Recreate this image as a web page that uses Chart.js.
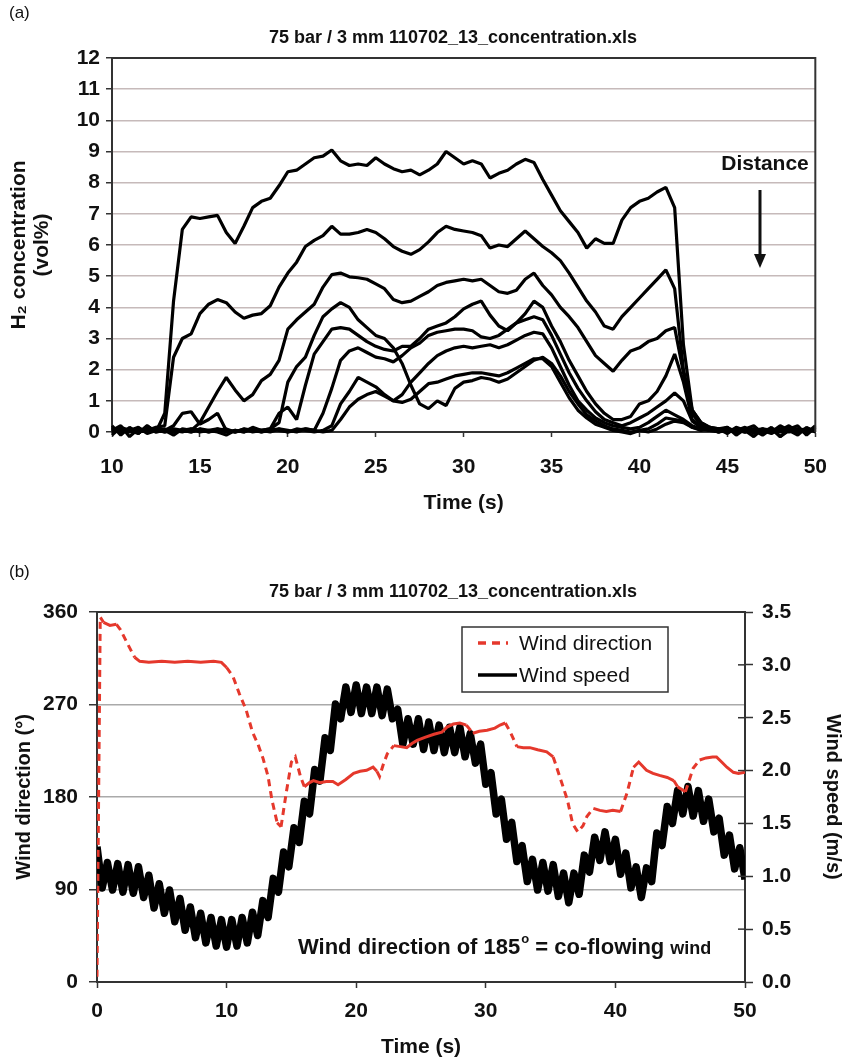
<!DOCTYPE html>
<html><head><meta charset="utf-8">
<script src="https://cdn.jsdelivr.net/npm/chart.js@4.4.1/dist/chart.umd.min.js"></script>
<style>
html,body{margin:0;padding:0;background:#fff;}
#wa{position:absolute;left:0;top:0;width:845px;height:545px;}
#wb{position:absolute;left:0;top:545px;width:845px;height:518px;}
</style></head><body>
<div id="wa"><canvas id="ca" width="845" height="545"></canvas></div>
<div id="wb"><canvas id="cb" width="845" height="518"></canvas></div>
<script>
// ---------- Chart (a): H2 concentration vs time ----------
const concTime = [10,10.5,11,11.5,12,12.5,13,13.5,14,14.5,
  15,15.5,16,16.5,17,17.5,18,18.5,19,19.5,
  20,20.5,21,21.5,22,22.5,23,23.5,24,24.5,
  25,25.5,26,26.5,27,27.5,28,28.5,29,29.5,
  30,30.5,31,31.5,32,32.5,33,33.5,34,34.5,
  35,35.5,36,36.5,37,37.5,38,38.5,39,39.5,
  40,40.5,41,41.5,42,42.5,43,43.5,44,44.5,
  45,45.5,46,46.5,47,47.5,48,48.5,49,49.5,50];
const concA = [0.20,-0.10,0.15,-0.05,0.20,0.00,0.60,4.20,6.50,6.90,
  6.85,6.90,6.95,6.40,6.05,6.60,7.20,7.40,7.50,7.90,
  8.35,8.40,8.60,8.80,8.85,9.05,8.70,8.55,8.60,8.55,
  8.80,8.60,8.45,8.35,8.40,8.25,8.40,8.60,9.00,8.80,
  8.60,8.70,8.60,8.15,8.30,8.40,8.60,8.75,8.65,8.10,
  7.60,7.10,6.75,6.40,5.90,6.20,6.05,6.05,6.80,7.20,
  7.40,7.50,7.70,7.85,7.20,2.80,0.70,0.30,0.15,0.10,
  0.15,-0.10,0.10,0.20,-0.05,0.15,-0.15,0.10,0.20,-0.10,0.15];
const concB = [0.05,0.20,-0.15,0.10,0.05,0.15,0.20,2.40,3.00,3.15,
  3.80,4.10,4.25,4.15,3.85,3.65,3.75,3.80,4.05,4.65,
  5.10,5.45,5.95,6.15,6.30,6.60,6.35,6.35,6.40,6.50,
  6.40,6.20,5.95,5.80,5.70,5.85,6.10,6.40,6.60,6.50,
  6.45,6.40,6.30,5.90,6.00,5.95,6.20,6.45,6.20,5.95,
  5.75,5.50,5.10,4.65,4.20,3.85,3.40,3.30,3.70,4.00,
  4.30,4.60,4.90,5.20,4.60,2.00,0.70,0.30,0.15,0.10,
  -0.05,0.15,0.05,-0.15,0.10,0.00,0.20,0.05,-0.10,0.15,0.00];
const concC = [-0.10,0.15,0.05,-0.05,0.20,0.00,0.05,-0.10,0.10,0.05,
  0.30,0.80,1.30,1.75,1.35,1.00,1.20,1.65,1.85,2.30,
  3.30,3.60,3.85,4.10,4.65,5.05,5.10,4.98,4.95,4.90,
  4.75,4.60,4.25,4.15,4.20,4.35,4.50,4.70,4.80,4.85,
  4.90,4.85,4.90,4.70,4.50,4.45,4.55,4.90,5.10,4.70,
  4.40,4.00,3.70,3.35,2.90,2.45,2.20,1.95,2.30,2.60,
  2.70,2.90,3.00,3.25,3.35,1.90,0.60,0.20,0.10,0.05,
  0.15,-0.05,0.10,0.05,-0.10,0.10,0.05,0.20,0.00,0.05,0.10];
const concD = [0.15,0.00,0.05,0.15,-0.05,0.05,0.10,0.00,0.05,0.00,
  0.10,0.05,0.00,-0.10,0.05,0.00,0.15,0.05,0.10,0.30,
  1.60,2.10,2.40,3.10,3.70,3.95,4.15,4.00,3.60,3.35,
  3.10,3.00,2.70,2.20,1.50,0.90,0.75,1.00,0.85,1.40,
  1.60,1.65,1.75,1.70,1.60,1.70,1.90,2.10,2.30,2.40,
  2.20,1.80,1.30,0.90,0.55,0.35,0.20,0.10,0.05,0.00,
  0.05,0.00,0.10,0.25,0.35,0.30,0.15,0.10,0.05,0.10,
  0.00,0.05,0.15,-0.05,0.05,0.10,-0.15,0.05,0.10,-0.05,0.20];
const concE = [0.05,0.00,0.10,0.05,0.00,0.10,0.05,0.00,0.05,0.10,
  0.00,0.05,0.10,0.00,0.05,0.00,0.10,0.05,0.10,0.60,
  0.80,0.40,1.50,2.50,2.90,3.30,3.35,3.30,3.10,2.90,
  2.75,2.65,2.60,2.75,2.75,3.00,3.30,3.40,3.50,3.70,
  3.95,4.10,4.20,3.75,3.40,3.25,3.50,3.80,4.20,4.00,
  3.40,2.90,2.30,1.80,1.30,0.90,0.60,0.40,0.40,0.50,
  0.90,1.00,1.30,1.80,2.50,1.60,0.40,0.15,0.10,0.00,
  0.10,0.05,0.00,0.10,0.05,-0.05,0.10,0.00,0.05,0.10,0.05];
const concF = [0.00,0.05,0.10,0.00,0.05,0.10,0.00,0.05,0.00,0.10,
  0.05,0.00,0.10,0.05,0.00,0.05,0.10,0.00,0.05,0.10,
  0.00,0.05,0.10,0.05,0.60,1.40,2.30,2.60,2.70,2.55,
  2.40,2.35,2.25,2.45,2.70,2.85,3.10,3.20,3.25,3.30,
  3.30,3.25,3.05,3.00,3.10,3.30,3.50,3.60,3.70,3.60,
  3.10,2.50,1.90,1.40,1.00,0.65,0.40,0.30,0.20,0.30,
  0.45,0.60,0.80,1.00,1.25,1.00,0.35,0.15,0.05,0.10,
  0.00,0.10,0.05,0.00,0.10,0.05,0.00,0.10,0.05,0.00,0.10];
const concG = [0.05,0.10,0.00,0.05,0.10,0.05,0.00,0.10,0.05,0.00,
  0.10,0.00,0.05,0.10,0.00,0.10,0.05,0.00,0.10,0.05,
  0.00,0.10,0.05,0.00,0.05,0.20,0.90,1.30,1.75,1.60,
  1.45,1.20,1.00,1.20,1.60,1.90,2.20,2.45,2.60,2.70,
  2.75,2.70,2.75,2.80,2.70,2.80,2.95,3.10,3.20,3.15,
  2.70,2.10,1.50,1.00,0.70,0.45,0.30,0.20,0.15,0.10,
  0.15,0.30,0.50,0.70,0.55,0.40,0.20,0.10,0.05,0.00,
  0.10,0.05,0.00,0.10,0.05,0.00,0.10,0.05,0.00,0.10,0.05];
const concH = [0.00,0.10,0.05,0.00,0.10,0.00,0.05,0.20,0.60,0.65,
  0.25,0.40,0.60,0.05,0.00,0.10,0.00,0.05,0.00,0.10,
  0.05,0.00,0.10,0.05,0.00,0.05,0.40,0.80,1.05,1.20,
  1.30,1.15,1.00,0.95,1.05,1.30,1.55,1.60,1.70,1.80,
  1.85,1.90,1.90,1.85,1.80,1.90,2.05,2.20,2.35,2.35,
  2.10,1.60,1.10,0.70,0.45,0.25,0.15,0.05,0.00,-0.05,
  0.05,0.10,0.25,0.45,0.40,0.35,0.15,0.05,0.10,0.00,
  0.05,0.10,0.00,0.05,0.10,0.00,0.05,0.10,0.00,0.05,0.10];
const concCurves = [concA, concB, concC, concD, concE, concF, concG, concH];

// ---------- Chart (b): wind direction and speed ----------
const dirTime = [0,0.25,0.5,1.0,1.5,1.8,2.4,2.9,3.3,4,
  5,6,7,8,9,9.6,10.0,10.5,11.0,11.5,
  12.0,12.4,12.8,13.2,13.5,13.9,14.2,14.6,15.0,15.3,
  15.7,16.0,16.4,16.7,17.2,17.7,18.2,18.6,19.2,19.8,
  20.3,20.8,21.3,21.6,21.8,22.1,22.4,22.9,23.4,23.9,
  24.3,24.7,25.3,26.0,26.6,27.0,27.5,28.0,28.5,29.0,
  29.5,30.1,30.7,31.1,31.5,31.9,32.4,32.9,33.4,34.0,
  34.7,35.2,35.7,36.3,36.7,37.1,37.5,37.8,38.3,38.8,
  39.3,39.8,40.4,40.9,41.4,41.8,42.4,42.9,43.4,44.0,
  44.5,44.8,45.4,46.0,46.5,47.0,47.5,47.8,48.2,48.6,
  49.1,49.5,50];
const windDirection = [5,355,350,347,348,343,328,316,312,311,
  312,311,312,311,312,311,306,297,280,265,
  243,232,218,200,177,155,151,184,214,219,
  200,190,194,196,194,195,195,192,197,203,
  205,206,209,205,200,212,222,230,229,228,
  232,235,238,241,243,248,251,252,250,242,
  244,245,247,250,252,243,229,228,228,226,
  224,219,200,177,154,146,152,161,169,167,
  166,167,166,184,209,214,206,203,201,199,
  196,190,185,208,216,218,219,219,214,209,
  204,203,204];
const speedTime = [0,0.4,0.8,1.2,1.6,2,2.4,2.8,3.2,3.6,
  4,4.4,4.8,5.2,5.6,6,6.4,6.8,7.2,7.6,
  8,8.4,8.8,9.2,9.6,10,10.4,10.8,11.2,11.6,
  12,12.4,12.8,13.2,13.6,14,14.4,14.8,15.2,15.6,
  16,16.4,16.8,17.2,17.6,18,18.4,18.8,19.2,19.6,
  20,20.4,20.8,21.2,21.6,22,22.4,22.8,23.2,23.6,
  24,24.4,24.8,25.2,25.6,26,26.4,26.8,27.2,27.6,
  28,28.4,28.8,29.2,29.6,30,30.4,30.8,31.2,31.6,
  32,32.4,32.8,33.2,33.6,34,34.4,34.8,35.2,35.6,
  36,36.4,36.8,37.2,37.6,38,38.4,38.8,39.2,39.6,
  40,40.4,40.8,41.2,41.6,42,42.4,42.8,43.2,43.6,
  44,44.4,44.8,45.2,45.6,46,46.4,46.8,47.2,47.6,
  48,48.4,48.8,49.2,49.6,50];
const windSpeed = [1.28,0.89,1.13,0.87,1.12,0.85,1.11,0.84,1.09,0.80,
  1.01,0.70,0.93,0.65,0.87,0.57,0.79,0.49,0.71,0.42,
  0.65,0.37,0.61,0.34,0.59,0.33,0.59,0.34,0.61,0.37,
  0.66,0.44,0.77,0.61,0.98,0.85,1.23,1.09,1.46,1.32,
  1.71,1.59,2.01,1.90,2.31,2.19,2.63,2.49,2.79,2.55,
  2.81,2.54,2.79,2.54,2.79,2.52,2.77,2.49,2.58,2.25,
  2.49,2.25,2.49,2.20,2.46,2.19,2.43,2.17,2.41,2.17,
  2.41,2.13,2.35,2.07,2.25,1.87,1.98,1.59,1.73,1.35,
  1.51,1.14,1.29,0.95,1.16,0.87,1.13,0.86,1.11,0.81,
  1.03,0.75,1.03,0.83,1.20,1.04,1.37,1.15,1.42,1.14,
  1.35,1.02,1.22,0.89,1.09,0.80,1.08,0.95,1.41,1.29,
  1.66,1.50,1.81,1.59,1.85,1.57,1.81,1.52,1.73,1.42,
  1.55,1.20,1.39,1.07,1.27,0.97];
const seriesLabels = ['Wind direction', 'Wind speed'];

// sanity checks
concCurves.forEach((c,i)=>{ if(c.length!==concTime.length) throw new Error('conc curve '+i+' length '+c.length); });
if (dirTime.length!==windDirection.length) throw new Error('dir len '+dirTime.length+' vs '+windDirection.length);
if (speedTime.length!==windSpeed.length) throw new Error('speed len '+speedTime.length+' vs '+windSpeed.length);

const FF = "'Liberation Sans', Arial, Helvetica, sans-serif";
const INK = '#111';
const pts = (xs, ys) => xs.map((x,i)=>({x, y: ys[i]}));

function textPlugin(id, items){
  return { id, afterDraw(chart){
    const c = chart.ctx; c.save();
    items.forEach(it=>{
      c.font = it.font; c.fillStyle = it.color || INK;
      c.textAlign = it.align || 'left'; c.textBaseline = 'middle';
      c.fillText(it.text, it.x, it.y);
    });
    c.restore();
  }};
}

// ---------- Chart (a) ----------
const frameA = { id:'frameA', afterDatasetsDraw(chart){
  const {left,right,top,bottom} = chart.chartArea; const c = chart.ctx;
  c.save(); c.strokeStyle = '#333'; c.lineWidth = 2;
  c.beginPath(); c.moveTo(left, top); c.lineTo(right, top); c.lineTo(right, bottom); c.stroke();
  // Distance arrow
  c.strokeStyle = '#111'; c.fillStyle = '#111'; c.lineWidth = 3;
  c.beginPath(); c.moveTo(760, 190); c.lineTo(760, 256); c.stroke();
  c.beginPath(); c.moveTo(754, 254); c.lineTo(766, 254); c.lineTo(760, 268); c.closePath(); c.fill();
  c.restore();
}};

new Chart(document.getElementById('ca'), {
  type: 'line',
  data: { datasets: concCurves.map((c,i)=>({
    label: 'Sensor '+(i+1), data: pts(concTime, c),
    borderColor: '#000', borderWidth: 3.2, pointRadius: 0, tension: 0, borderJoinStyle: 'bevel',
    clip: {left: 2, top: 0, right: 8, bottom: 8}
  }))},
  options: {
    responsive: false, animation: false, devicePixelRatio: 1,
    layout: { padding: { top: 58, right: 16, bottom: 0, left: 0 } },
    plugins: { legend: { display: false }, tooltip: { enabled: false } },
    scales: {
      x: { type: 'linear', min: 10, max: 50,
        ticks: { stepSize: 5, color: INK, font: { family: FF, size: 21, weight: 'bold' }, padding: 18, maxRotation: 0 },
        grid: { drawOnChartArea: false, drawTicks: true, tickLength: 5, tickColor: '#333', tickWidth: 1.5 },
        border: { color: '#333', width: 2 },
        title: { display: true, text: 'Time (s)', color: INK, font: { family: FF, size: 21, weight: 'bold' }, padding: { top: 0, bottom: 29 } },
        afterFit: s => { s.height = 113; } },
      y: { min: 0, max: 12,
        ticks: { stepSize: 1, color: INK, font: { family: FF, size: 21, weight: 'bold' }, padding: 6 },
        grid: { color: ctx => (ctx.tick && (ctx.tick.value === 0 || ctx.tick.value === 12)) ? 'rgba(0,0,0,0)' : '#c6baba',
                lineWidth: 1.5, tickLength: 6, tickColor: '#333', tickWidth: 1.5 },
        border: { color: '#333', width: 2 },
        title: { display: true, text: ['H\u2082 concentration', '(vol%)'], color: INK,
                 font: { family: FF, size: 21, weight: 'bold', lineHeight: 1.1 }, padding: { top: 8, bottom: 0 } },
        afterFit: s => { s.width = 112; } }
    }
  },
  plugins: [frameA, textPlugin('txtA', [
    { text: '(a)', x: 9, y: 13, font: `17px ${FF}` },
    { text: '75 bar / 3 mm 110702_13_concentration.xls', x: 453, y: 38, align: 'center', font: `bold 18px ${FF}` },
    { text: 'Distance', x: 765, y: 164, align: 'center', font: `bold 21px ${FF}` }
  ])]
});

// ---------- Chart (b) ----------
const RED = '#e5382c';
const steep = ctx => Math.abs(ctx.p1.y - ctx.p0.y) > 1.1 * Math.abs(ctx.p1.x - ctx.p0.x);

const frameB = { id:'frameB', afterDatasetsDraw(chart){
  const {left,right,top} = chart.chartArea; const c = chart.ctx;
  c.save(); c.strokeStyle = '#333'; c.lineWidth = 2;
  c.beginPath(); c.moveTo(left, top); c.lineTo(right, top); c.stroke();
  // inner half of the crossing tick marks on the right axis
  const s = chart.scales.y1; c.lineWidth = 1.5;
  s.ticks.forEach(t => { const y = s.getPixelForValue(t.value); c.beginPath(); c.moveTo(right - 7, y); c.lineTo(right, y); c.stroke(); });
  c.restore();
}};

const legendB = { id:'legendB', afterDraw(chart){
  const c = chart.ctx; c.save();
  c.fillStyle = '#fff'; c.fillRect(462, 82, 206, 65);
  c.strokeStyle = '#333'; c.lineWidth = 1.5; c.strokeRect(462, 82, 206, 65);
  const rows = [98, 130];
  chart.data.datasets.forEach((ds, i) => {
    const y = rows[i];
    c.strokeStyle = ds.borderColor; c.lineWidth = 3.5;
    c.setLineDash(i === 0 ? [8, 6] : []);
    c.beginPath(); c.moveTo(478, y); c.lineTo(i === 0 ? 508 : 517, y); c.stroke();
    c.setLineDash([]);
    c.fillStyle = INK; c.font = `21px ${FF}`; c.textAlign = 'left'; c.textBaseline = 'middle';
    c.fillText(ds.label, 519, y + 1);
  });
  // annotation
  const y = 403; let x = 298;
  c.font = `bold 22px ${FF}`; c.fillText('Wind direction of 185', x, y); x += c.measureText('Wind direction of 185').width;
  c.font = `bold 13px ${FF}`; c.fillText('o', x + 1, y - 9); x += c.measureText('o').width + 1;
  c.font = `bold 22px ${FF}`; c.fillText(' = co-flowing ', x, y); x += c.measureText(' = co-flowing ').width;
  c.font = `bold 18px ${FF}`; c.fillText('wind', x, y + 1);
  c.restore();
}};

new Chart(document.getElementById('cb'), {
  type: 'line',
  data: { datasets: [
    { label: seriesLabels[0], data: pts(dirTime, windDirection), yAxisID: 'y',
      borderColor: RED, borderWidth: 3, pointRadius: 0, tension: 0, borderDash: [],
      segment: { borderDash: ctx => steep(ctx) ? [7, 5] : undefined } },
    { label: seriesLabels[1], data: pts(speedTime, windSpeed), yAxisID: 'y1',
      borderColor: '#000', borderWidth: 7.5, pointRadius: 0, tension: 0, borderJoinStyle: 'round' }
  ]},
  options: {
    responsive: false, animation: false, devicePixelRatio: 1,
    layout: { padding: { top: 67, right: 0, bottom: 0, left: 0 } },
    plugins: { legend: { display: false }, tooltip: { enabled: false } },
    scales: {
      x: { type: 'linear', min: 0, max: 50,
        ticks: { stepSize: 10, color: INK, font: { family: FF, size: 21, weight: 'bold' }, padding: 11, maxRotation: 0 },
        grid: { drawOnChartArea: false, drawTicks: true, tickLength: 6, tickColor: '#333', tickWidth: 1.5 },
        border: { color: '#333', width: 2 },
        title: { display: true, text: 'Time (s)', color: INK, font: { family: FF, size: 21, weight: 'bold' }, padding: { top: 0, bottom: 3 } },
        afterFit: s => { s.height = 81; } },
      y: { position: 'left', min: 0, max: 360,
        ticks: { stepSize: 90, color: INK, font: { family: FF, size: 21, weight: 'bold' }, padding: 11 },
        grid: { color: ctx => (ctx.tick && (ctx.tick.value === 0 || ctx.tick.value === 360)) ? 'rgba(0,0,0,0)' : '#aaaaaa',
                lineWidth: 1.5, tickLength: 8, tickColor: '#333', tickWidth: 1.5 },
        border: { color: '#333', width: 2 },
        title: { display: true, text: 'Wind direction (\u00B0)', color: INK, font: { family: FF, size: 20, weight: 'bold' }, padding: { top: 12, bottom: 0 } },
        afterFit: s => { s.width = 97; } },
      y1: { position: 'right', min: 0, max: 3.5,
        ticks: { stepSize: 0.5, color: INK, font: { family: FF, size: 21, weight: 'bold' }, padding: 9, callback: v => Number(v).toFixed(1) },
        grid: { drawOnChartArea: false, drawTicks: true, tickLength: 8, tickColor: '#333', tickWidth: 1.5 },
        border: { color: '#333', width: 2 },
        title: { display: true, text: 'Wind speed (m/s)', color: INK, font: { family: FF, size: 20, weight: 'bold' }, padding: { top: 0, bottom: 0 } },
        afterFit: s => { s.width = 100; } }
    }
  },
  plugins: [frameB, legendB, textPlugin('txtB', [
    { text: '(b)', x: 9, y: 27, font: `17px ${FF}` },
    { text: '75 bar / 3 mm 110702_13_concentration.xls', x: 453, y: 47, align: 'center', font: `bold 18px ${FF}` }
  ])]
});
</script>
</body></html>
